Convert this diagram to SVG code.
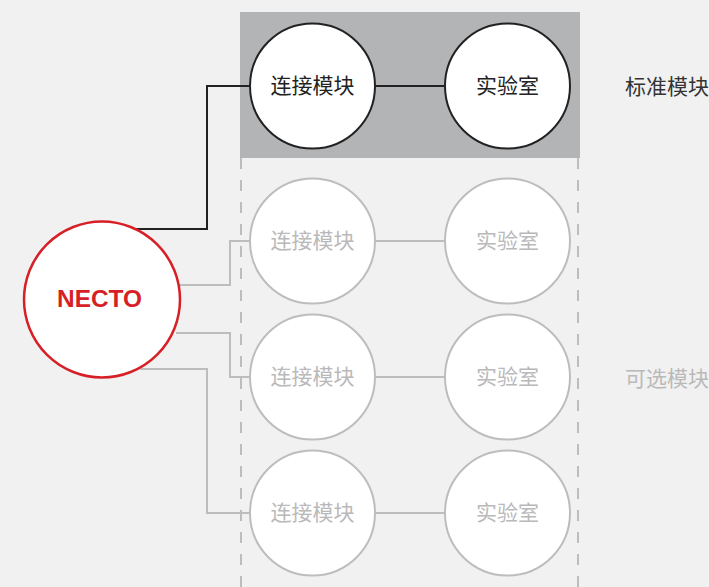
<svg xmlns="http://www.w3.org/2000/svg" width="709" height="587" viewBox="0 0 709 587">
<style>
.cj{font-family:"Noto Sans CJK SC","Noto Sans",sans-serif;font-size:21px;text-anchor:middle}
.dk{fill:#222}
.lt{fill:#b9b9b9}
.nb{fill:#fff;stroke:#222;stroke-width:2}
.ng{fill:#fff;stroke:#bdbdbd;stroke-width:2}
.cb{fill:none;stroke:#222;stroke-width:2}
.cg{fill:none;stroke:#bdbdbd;stroke-width:2}
</style>
<rect width="709" height="587" fill="#f1f1f1"/>
<rect x="240" y="12" width="340" height="146" fill="#b3b4b6"/>
<g id="dashes" stroke="#bdbdbd" stroke-width="2" stroke-dasharray="11 11">
<line x1="241" y1="158" x2="241" y2="587"/>
<line x1="578" y1="158" x2="578" y2="587"/>
</g>
<g id="connectors">
<polyline class="cb" points="136,229 207,229 207,86 250,86"/>
<line class="cb" x1="375" y1="86" x2="445" y2="86"/>
<polyline class="cg" points="180,285 230,285 230,241 250,241"/>
<polyline class="cg" points="176,333 230,333 230,377 250,377"/>
<polyline class="cg" points="140,369 207,369 207,513 250,513"/>
<line class="cg" x1="375" y1="241" x2="445" y2="241"/>
<line class="cg" x1="375" y1="377" x2="445" y2="377"/>
<line class="cg" x1="375" y1="513" x2="445" y2="513"/>
</g>
<g id="necto">
<circle cx="102" cy="299.5" r="78" fill="#fff" stroke="#d71f26" stroke-width="2.5"/>
<text x="99.5" y="307" font-family="Liberation Sans,Arial,sans-serif" font-size="23" font-weight="bold" fill="#d71f26" text-anchor="middle" textLength="85" lengthAdjust="spacingAndGlyphs">NECTO</text>
</g>
<g id="conn1"><circle class="nb" cx="312.5" cy="86" r="62.5"/><text class="cj dk" x="312.5" y="93">连接模块</text></g>
<g id="lab1"><circle class="nb" cx="507.5" cy="86" r="62.5"/><text class="cj dk" x="507.5" y="93">实验室</text></g>
<g id="conn2"><circle class="ng" cx="312.5" cy="241" r="62.5"/><text class="cj lt" x="312.5" y="248">连接模块</text></g>
<g id="lab2"><circle class="ng" cx="507.5" cy="241" r="62.5"/><text class="cj lt" x="507.5" y="248">实验室</text></g>
<g id="conn3"><circle class="ng" cx="312.5" cy="377" r="62.5"/><text class="cj lt" x="312.5" y="384">连接模块</text></g>
<g id="lab3"><circle class="ng" cx="507.5" cy="377" r="62.5"/><text class="cj lt" x="507.5" y="384">实验室</text></g>
<g id="conn4"><circle class="ng" cx="312.5" cy="513" r="62.5"/><text class="cj lt" x="312.5" y="520">连接模块</text></g>
<g id="lab4"><circle class="ng" cx="507.5" cy="513" r="62.5"/><text class="cj lt" x="507.5" y="520">实验室</text></g>
<g id="labels">
<text x="625" y="94" font-family="Noto Sans CJK SC,sans-serif" font-size="21" fill="#333">标准模块</text>
<text x="625" y="386" font-family="Noto Sans CJK SC,sans-serif" font-size="21" fill="#b9b9b9">可选模块</text>
</g>
</svg>
